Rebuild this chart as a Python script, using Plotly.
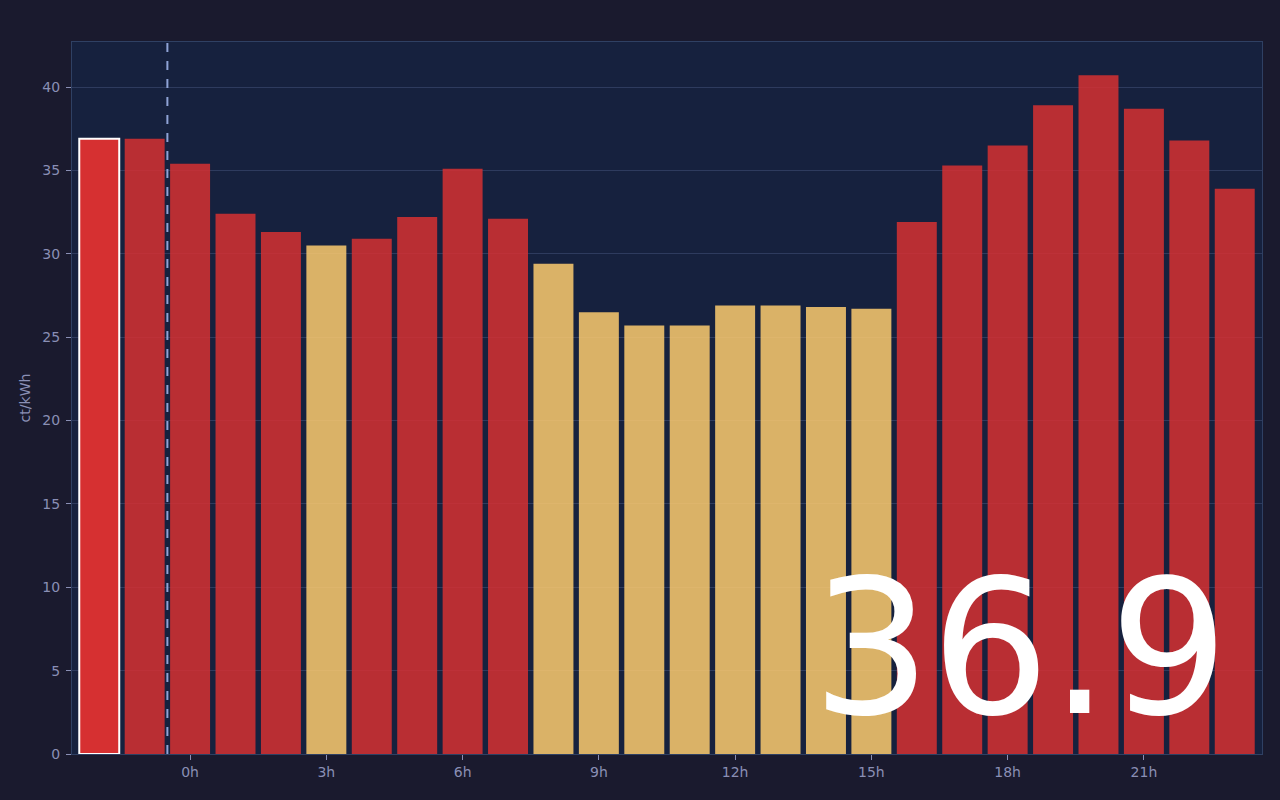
import plotly.graph_objects as go

# Stunden relativ zu heute (-2, -1 = Vortag)
stunden = list(range(-2, 24))
preise = [36.9, 36.9, 35.4, 32.4, 31.3, 30.5, 30.9, 32.2, 35.1, 32.1,
          29.4, 26.5, 25.7, 25.7, 26.9, 26.9, 26.8, 26.7, 31.9, 35.3,
          36.5, 38.9, 40.7, 38.7, 36.8, 33.9]
guenstig = [False, False, False, False, False, True, False, False, False, False,
            True, True, True, True, True, True, True, True, False, False,
            False, False, False, False, False, False]
tick_werte = [0, 3, 6, 9, 12, 15, 18, 21]
tick_texte = ["0h", "3h", "6h", "9h", "12h", "15h", "18h", "21h"]
aktuell = 36.9

ROT = "#d63031"
GELB = "#fdcb6e"

farben = [GELB if g else ROT for g in guenstig]
deckkraft = [0.85] * len(preise)
rand_farbe = ["rgba(0,0,0,0)"] * len(preise)
rand_breite = [0] * len(preise)
# aktuelle Stunde hervorheben
deckkraft[0] = 1.0
rand_farbe[0] = "white"
rand_breite[0] = 2

fig = go.Figure()
fig.add_trace(go.Bar(
    x=stunden,
    y=preise,
    marker=dict(color=farben, opacity=deckkraft,
                line=dict(color=rand_farbe, width=rand_breite)),
    showlegend=False,
    hoverinfo="skip",
))

# Tageswechsel
fig.add_vline(x=-0.5, line=dict(color="#8fa3d6", width=2, dash="dash"))

fig.add_annotation(
    text=f"{aktuell:.1f}",
    xref="paper", yref="paper", x=0.975, y=0.0,
    xanchor="right", yanchor="bottom", showarrow=False,
    font=dict(family="DejaVu Sans", size=187, color="white"),
    xshift=-2, yshift=-5,
)

fig.update_layout(
    width=1280, height=800,
    paper_bgcolor="#1a1a2e",
    plot_bgcolor="#16213e",
    margin=dict(l=72, r=18, t=42, b=46),
    bargap=0.12,
    font=dict(family="DejaVu Sans", color="#8a8fb5", size=14),
)
fig.update_xaxes(
    range=[-2.6, 23.6],
    tickvals=tick_werte, ticktext=tick_texte,
    ticks="outside", ticklen=5, tickcolor="#8a8fb5",
    showgrid=False, zeroline=False,
    showline=True, linecolor="#2f4063", mirror=True,
)
fig.update_yaxes(
    range=[0, 42.7],
    dtick=5,
    title=dict(text="ct/kWh", font=dict(size=14), standoff=8),
    ticks="outside", ticklen=5, tickcolor="#8a8fb5",
    ticklabelstandoff=3,
    gridcolor="#2e3b5e", zeroline=False,
    showline=True, linecolor="#2f4063", mirror=True,
)

# Rand der Seite entfernen, damit die Grafik bei 0,0 beginnt
fig.write_html("out.html", config={"displayModeBar": False},
               post_script="document.body.style.margin='0';document.body.style.background='#1a1a2e';")
